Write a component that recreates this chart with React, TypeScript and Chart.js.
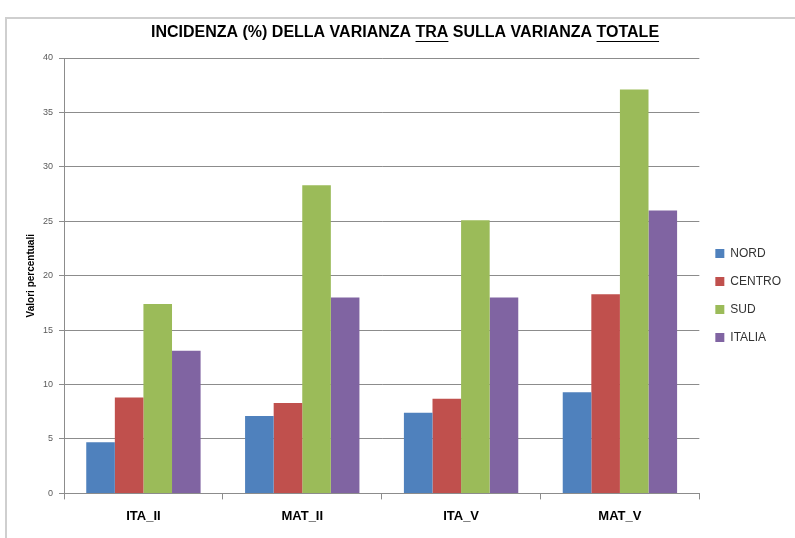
import React, { useEffect, useRef } from "react";
import { Chart, registerables } from "chart.js";

Chart.register(...registerables);

const categories = ["ITA_II", "MAT_II", "ITA_V", "MAT_V"];
const nordValues = [4.7, 7.1, 7.4, 9.3];
const centroValues = [8.8, 8.3, 8.7, 18.3];
const sudValues = [17.4, 28.3, 25.1, 37.1];
const italiaValues = [13.1, 18.0, 18.0, 26.0];
const seriesNames = ["NORD", "CENTRO", "SUD", "ITALIA"];
const seriesColors = ["#4F81BD", "#C0504D", "#9BBB59", "#8064A2"];
const titleParts: [string, boolean][] = [
  ["INCIDENZA (%) DELLA VARIANZA ", false],
  ["TRA", true],
  [" SULLA VARIANZA ", false],
  ["TOTALE", true],
];
const yAxisTitle = "Valori percentuali";

const FONT = "'Liberation Sans', Arial, sans-serif";

const titlePlugin = {
  id: "underlinedTitle",
  afterDraw(chart: any) {
    const ctx = chart.ctx;
    ctx.save();
    ctx.font = `bold 16px ${FONT}`;
    ctx.fillStyle = "#000";
    ctx.strokeStyle = "#000";
    ctx.textBaseline = "middle";
    ctx.textAlign = "left";
    const widths = titleParts.map((p) => ctx.measureText(p[0]).width);
    const total = widths.reduce((a, b) => a + b, 0);
    const cx = 405;
    const cy = 33;
    let x = cx - total / 2;
    titleParts.forEach((p, i) => {
      ctx.fillText(p[0], x, cy);
      if (p[1]) {
        ctx.lineWidth = 1.2;
        ctx.beginPath();
        ctx.moveTo(x, cy + 8.5);
        ctx.lineTo(x + widths[i], cy + 8.5);
        ctx.stroke();
      }
      x += widths[i];
    });
    ctx.restore();
  },
};

export default function App() {
  const ref = useRef<HTMLCanvasElement | null>(null);
  useEffect(() => {
    if (!ref.current) return;
    const values = [nordValues, centroValues, sudValues, italiaValues];
    const chart = new Chart(ref.current, {
      type: "bar",
      data: {
        labels: categories,
        datasets: seriesNames.map((name, i) => ({
          label: name,
          data: values[i],
          backgroundColor: seriesColors[i],
          borderWidth: 0,
          categoryPercentage: 0.72,
          barPercentage: 1,
        })),
      },
      plugins: [titlePlugin],
      options: {
        animation: false,
        responsive: true,
        maintainAspectRatio: false,
        layout: { padding: { top: 58, left: 25, right: 4, bottom: 5 } },
        plugins: {
          title: { display: false },
          tooltip: { enabled: false },
          legend: {
            position: "right",
            labels: {
              boxWidth: 9,
              boxHeight: 9,
              padding: 16,
              color: "#333",
              font: { size: 12, family: FONT },
            },
          },
        },
        scales: {
          x: {
            grid: {
              drawOnChartArea: false,
              drawTicks: true,
              tickLength: 6,
              color: "#8c8c8c",
              offset: true,
            },
            border: { color: "#8c8c8c" },
            ticks: {
              color: "#000",
              padding: 9,
              font: { size: 13, weight: "bold", family: FONT },
            },
          },
          y: {
            min: 0,
            max: 40,
            ticks: {
              stepSize: 5,
              color: "#595959",
              padding: 6,
              font: { size: 9, family: FONT },
            },
            grid: { color: "#8c8c8c", tickLength: 5 },
            border: { color: "#8c8c8c" },
            title: {
              display: true,
              text: yAxisTitle,
              color: "#000",
              font: { size: 10, weight: "bold", family: FONT },
              padding: { top: 0, bottom: 0 },
            },
          },
        },
      },
    });
    return () => chart.destroy();
  }, []);
  return (
    <div
      style={{
        position: "fixed",
        left: 0,
        top: 0,
        width: 795,
        height: 538,
        background: "#fff",
      }}
    >
      <div
        style={{
          position: "absolute",
          left: 5,
          top: 17,
          width: 800,
          height: 530,
          borderLeft: "2px solid #cfcfcf",
          borderTop: "2px solid #cfcfcf",
        }}
      />
      <canvas ref={ref} />
    </div>
  );
}
